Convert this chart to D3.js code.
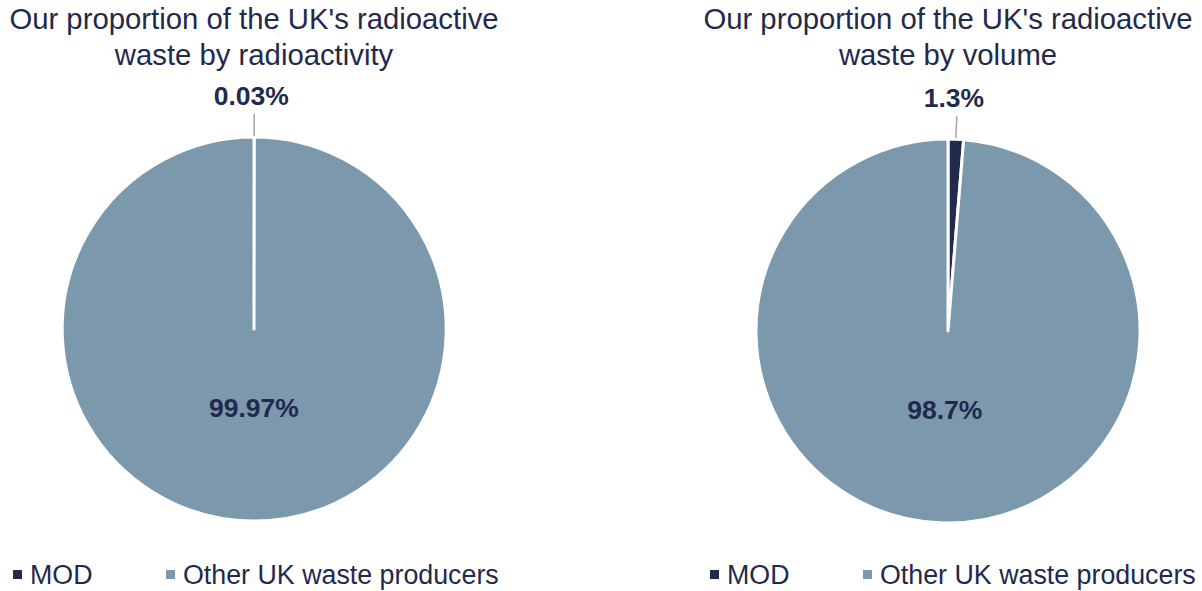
<!DOCTYPE html>
<html>
<head>
<meta charset="utf-8">
<script src="https://cdn.jsdelivr.net/npm/d3@7"></script>
<style>
  html, body { margin: 0; padding: 0; background: #fff; }
  svg text { font-family: "Liberation Sans", Arial, sans-serif; }
</style>
</head>
<body>
<svg id="chart" width="1202" height="591"></svg>
<script>
// Categories and shares (%) for each pie
const categories = ["MOD", "Other UK waste producers"];
const radioactivityValues = [0.03, 99.97];
const volumeValues = [1.3, 98.7];
const radioactivityLabels = ["0.03%", "99.97%"];
const volumeLabels = ["1.3%", "98.7%"];
const titles = [
  ["Our proportion of the UK's radioactive", "waste by radioactivity"],
  ["Our proportion of the UK's radioactive", "waste by volume"]
];

const colors = d3.scaleOrdinal().domain(categories).range(["#1f2a4d", "#7b98ad"]);
const textColor = "#1f2a4d";

const svg = d3.select("#chart");
const radius = 192;

const pies = [
  { cx: 254, cy: 329, values: radioactivityValues, labels: radioactivityLabels, title: titles[0], legendX: 13 },
  { cx: 948, cy: 331, values: volumeValues, labels: volumeLabels, title: titles[1], legendX: 710 }
];

const pie = d3.pie().sort(null).value(d => d.value);
const arc = d3.arc().innerRadius(0).outerRadius(radius);

pies.forEach(p => {
  const g = svg.append("g").attr("transform", `translate(${p.cx},${p.cy})`);
  const data = categories.map((c, i) => ({ cat: c, value: p.values[i], label: p.labels[i] }));
  const arcs = pie(data);

  g.selectAll("path.slice")
    .data(arcs)
    .join("path")
    .attr("class", "slice")
    .attr("d", arc)
    .attr("fill", d => colors(d.data.cat))
    .attr("stroke", "#fff")
    .attr("stroke-width", 3)
    .attr("stroke-linejoin", "round");

  // small MOD slice: outside label with leader line
  const small = arcs[0];
  const mid = (small.startAngle + small.endAngle) / 2;
  const sx = Math.sin(mid), sy = -Math.cos(mid);
  g.append("line")
    .attr("x1", sx * (radius + 1)).attr("y1", sy * (radius + 1))
    .attr("x2", sx * (radius + 23)).attr("y2", sy * (radius + 23))
    .attr("stroke", "#a6a6a6").attr("stroke-width", 1.5);
  g.append("text")
    .attr("x", sx * (radius + 27) - 3).attr("y", sy * (radius + 27) - 5)
    .attr("text-anchor", "middle")
    .attr("font-size", 26.5).attr("font-weight", "bold")
    .attr("fill", textColor)
    .text(small.data.label);

  // large slice: inside label
  const big = arcs[1];
  const bmid = (big.startAngle + big.endAngle) / 2;
  const r2 = radius * 0.41;
  g.append("text")
    .attr("x", Math.sin(bmid) * r2).attr("y", -Math.cos(bmid) * r2)
    .attr("dy", "0.35em")
    .attr("text-anchor", "middle")
    .attr("font-size", 26.5).attr("font-weight", "bold")
    .attr("fill", textColor)
    .text(big.data.label);

  // title
  const t = svg.append("text")
    .attr("text-anchor", "middle")
    .attr("font-size", 29.3)
    .attr("fill", textColor);
  p.title.forEach((line, i) => {
    t.append("tspan").attr("x", p.cx).attr("y", 29 + i * 36).text(line);
  });

  // legend
  const legend = svg.append("g").attr("transform", `translate(${p.legendX},584)`);
  const offsets = [0, 153];
  categories.forEach((c, i) => {
    const lg = legend.append("g").attr("transform", `translate(${offsets[i]},0)`);
    lg.append("rect").attr("x", 0).attr("y", -14).attr("width", 9).attr("height", 9).attr("fill", colors(c));
    lg.append("text").attr("x", 17).attr("y", 0)
      .attr("font-size", 26.8).attr("fill", textColor).text(c);
  });
});
</script>
</body>
</html>
